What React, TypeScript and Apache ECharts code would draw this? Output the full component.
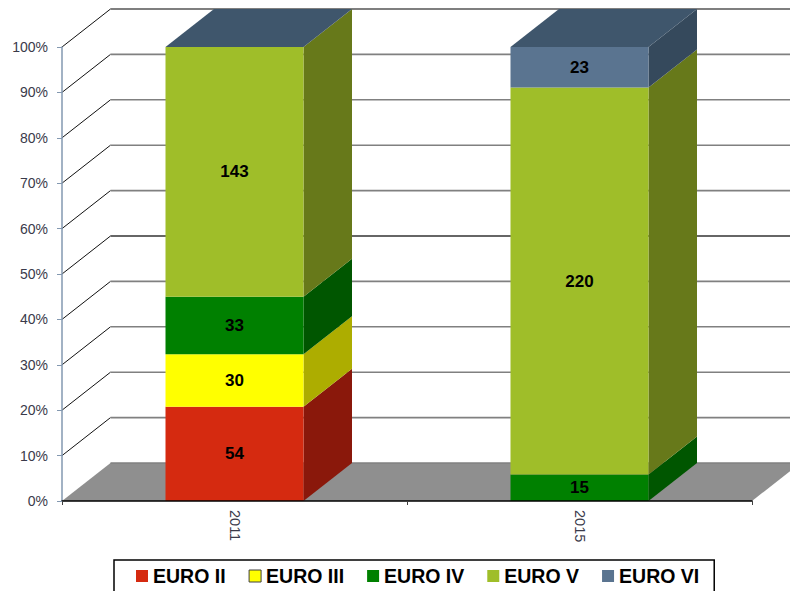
import React, { useEffect, useRef } from "react";
import * as echarts from "echarts";

const categories = ["2011", "2015"];
const seriesNames = ["EURO II", "EURO III", "EURO IV", "EURO V", "EURO VI"];
const euro2 = [54, 0];
const euro3 = [30, 0];
const euro4 = [33, 15];
const euro5 = [143, 220];
const euro6 = [0, 23];
const tickValues = [0, 10, 20, 30, 40, 50, 60, 70, 80, 90, 100];
const frontColors = ["#D52A10", "#FFFF00", "#008000", "#9FBE29", "#5A7490"];
const sideColors = ["#8A180B", "#ADAD00", "#005600", "#67791A", "#35495C"];
const topColor = "#3F566C";

const rows = [euro2, euro3, euro4, euro5, euro6];
const FONT = "'Liberation Sans', Arial, sans-serif";
const DEPTH_X = 48.5;
const DEPTH_Y = 38;
const BAR_RATIO = 0.4;

const totals = categories.map((_, c) => rows.reduce((s, r) => s + r[c], 0));
const shares = rows.map((r) => r.map((v, c) => (v / totals[c]) * 100));

const sideData: number[][] = [];
categories.forEach((_, c) => {
  let acc = 0;
  rows.forEach((_r, s) => {
    const next = acc + shares[s][c];
    sideData.push([c, acc, next, s]);
    acc = next;
  });
});

export default function App() {
  const ref = useRef<HTMLDivElement>(null);
  useEffect(() => {
    document.body.style.margin = "0";
    const chart = echarts.init(ref.current!, undefined, { renderer: "svg" });
    chart.setOption({
      animation: false,
      backgroundColor: "#ffffff",
      grid: { left: 62, top: 47, width: 690, height: 454, containLabel: false },
      legend: {
        data: seriesNames.map((name, i) => ({
          name,
          icon: "rect",
          itemStyle: i === 1 ? { borderColor: "#404040", borderWidth: 1 } : undefined,
        })),
        left: 114,
        top: 560,
        orient: "horizontal",
        itemWidth: 12,
        itemHeight: 12,
        itemGap: 23,
        padding: [6, 15, 20, 22],
        borderColor: "#000000",
        borderWidth: 1.5,
        textStyle: { fontFamily: FONT, fontSize: 19.5, fontWeight: "bold", color: "#000000" },
      },
      xAxis: {
        type: "category",
        data: categories,
        z: 6,
        axisLine: { lineStyle: { color: "#000000", width: 1.5 } },
        axisTick: { show: true, alignWithLabel: false, length: 4, lineStyle: { color: "#404040" } },
        axisLabel: { rotate: -90, margin: 9, fontFamily: FONT, fontSize: 14.5, color: "#3a3a4a" },
        splitLine: { show: false },
      },
      yAxis: {
        type: "value",
        min: 0,
        max: 100,
        interval: 10,
        z: 6,
        axisLine: { show: true, lineStyle: { color: "#8398B0", width: 1.5 } },
        axisTick: { show: true, length: 5, lineStyle: { color: "#8398B0" } },
        axisLabel: { formatter: "{value}%", margin: 14, fontFamily: FONT, fontSize: 14, color: "#3a3a4a" },
        splitLine: { show: false },
      },
      series: [
        {
          type: "custom",
          name: "walls",
          z: 1,
          clip: false,
          silent: true,
          data: tickValues.map((v) => [v]),
          encode: { y: 0 },
          renderItem: (_p: any, api: any) => {
            const v = api.value(0);
            const [x0, y] = api.coord([0, v]);
            const bandW = api.size([1, 0])[0];
            const left = x0 - bandW / 2;
            const right = left + bandW * categories.length;
            const children: any[] = [];
            if (v === 0) {
              children.push({
                type: "polygon",
                shape: {
                  points: [
                    [left, y],
                    [left + DEPTH_X, y - DEPTH_Y],
                    [right + DEPTH_X, y - DEPTH_Y],
                    [right, y],
                  ],
                },
                style: { fill: "#8F8F8F" },
              });
            } else {
              children.push({
                type: "line",
                shape: { x1: left, y1: y, x2: left + DEPTH_X, y2: y - DEPTH_Y },
                style: { stroke: "#111111", lineWidth: 1 },
              });
            }
            children.push({
              type: "line",
              shape: { x1: left + DEPTH_X, y1: y - DEPTH_Y, x2: right + DEPTH_X, y2: y - DEPTH_Y },
              style: { stroke: v === 50 ? "#333333" : v === 100 ? "#555555" : "#808080", lineWidth: 1.6 },
            });
            return { type: "group", children };
          },
        },
        ...seriesNames.map((name, s) => ({
          type: "bar",
          name,
          stack: "total",
          barWidth: "40%",
          z: 3,
          itemStyle: { color: frontColors[s] },
          data: shares[s],
          label: {
            show: true,
            position: "inside",
            fontFamily: FONT,
            fontSize: 17,
            fontWeight: "bold",
            color: "#000000",
            formatter: (p: any) => (rows[s][p.dataIndex] ? String(rows[s][p.dataIndex]) : ""),
          },
        })),
        {
          type: "custom",
          name: "faces",
          z: 2,
          clip: false,
          silent: true,
          data: sideData,
          encode: { x: 0, y: [1, 2] },
          renderItem: (_p: any, api: any) => {
            const c = api.value(0);
            const start = api.value(1);
            const end = api.value(2);
            const s = api.value(3);
            const bandW = api.size([1, 0])[0];
            const cx = api.coord([c, 0])[0];
            const xl = cx - (bandW * BAR_RATIO) / 2;
            const xr = cx + (bandW * BAR_RATIO) / 2;
            const y0 = api.coord([c, start])[1];
            const y1 = api.coord([c, end])[1];
            const children: any[] = [];
            if (end > start) {
              children.push({
                type: "polygon",
                shape: {
                  points: [
                    [xr, y0],
                    [xr + DEPTH_X, y0 - DEPTH_Y],
                    [xr + DEPTH_X, y1 - DEPTH_Y],
                    [xr, y1],
                  ],
                },
                style: { fill: sideColors[s] },
              });
            }
            if (s === seriesNames.length - 1) {
              children.push({
                type: "polygon",
                shape: {
                  points: [
                    [xl, y1],
                    [xr, y1],
                    [xr + DEPTH_X, y1 - DEPTH_Y],
                    [xl + DEPTH_X, y1 - DEPTH_Y],
                  ],
                },
                style: { fill: topColor },
              });
            }
            return { type: "group", children };
          },
        },
      ],
    });
    return () => chart.dispose();
  }, []);
  return <div ref={ref} style={{ position: "fixed", left: 0, top: 0, width: 790, height: 591 }} />;
}
